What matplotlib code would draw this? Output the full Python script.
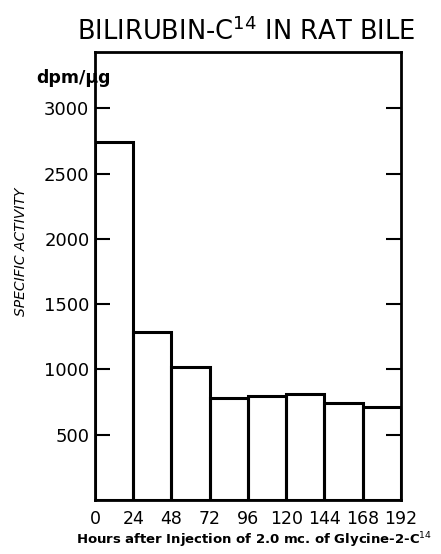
import matplotlib
matplotlib.use("Agg")
import matplotlib.pyplot as plt

# collection windows (hours after injection) and bilirubin specific activity
hour_edges = [0, 24, 48, 72, 96, 120, 144, 168, 192]
activity = [2740, 1290, 1020, 780, 797, 810, 745, 712]
y_ticks = [500, 1000, 1500, 2000, 2500, 3000]

plt.rcParams["font.family"] = ["DejaVu Sans"]

fig = plt.figure(figsize=(4.41, 5.54), dpi=100)
ax = fig.add_axes([0.2154, 0.0975, 0.6936, 0.8085])

ax.bar(hour_edges[:-1], activity, width=24, align="edge", fill=False,
       edgecolor="black", linewidth=2.2)

ax.set_xlim(0, 192)
ax.set_ylim(0, 3430)
ax.set_xticks(hour_edges)
ax.set_xticklabels([str(h) for h in hour_edges], fontsize=12.5)
ax.set_yticks(y_ticks)
ax.set_yticklabels([str(v) for v in y_ticks], fontsize=13)
ax.tick_params(axis="y", direction="in", length=11, width=1.5, left=True, right=True, pad=4)
ax.tick_params(axis="x", length=0, pad=7)
for s in ax.spines.values():
    s.set_linewidth(2)

fig.text(0.558, 0.942, "BILIRUBIN-C$^{14}$ IN RAT BILE", fontsize=18.5, ha="center", va="center")
fig.text(0.082, 0.859, "dpm/\u03bcg", fontsize=12.5, fontweight="bold", ha="left", va="center")
fig.text(0.048, 0.545, "SPECIFIC ACTIVITY", fontsize=10, style="italic", rotation=90,
         ha="center", va="center")
fig.text(0.575, 0.025, "Hours after Injection of 2.0 mc. of Glycine-2-C$^{14}$",
         fontsize=9.5, fontweight="bold", ha="center", va="center")

fig.savefig("out.png", dpi=100)
